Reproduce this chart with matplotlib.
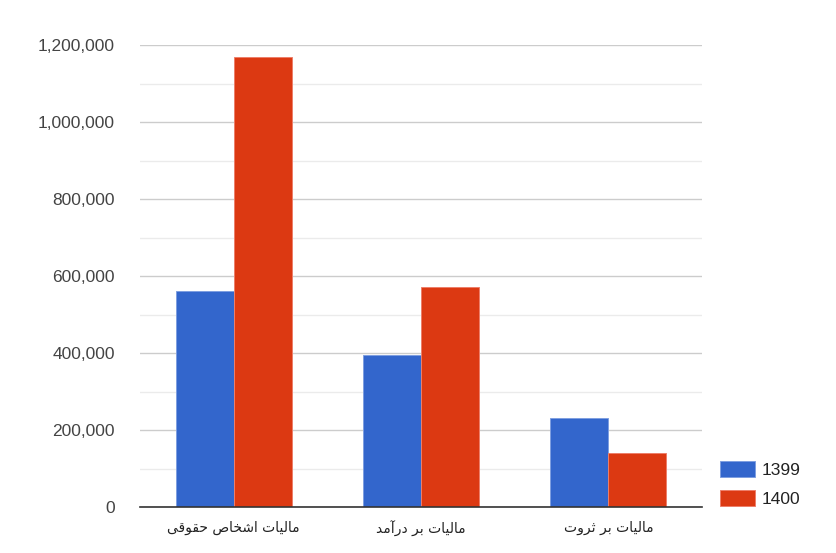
import matplotlib
matplotlib.use("Agg")
import matplotlib.pyplot as plt
from matplotlib.ticker import MultipleLocator, FuncFormatter
import numpy as np

# ---- data ----
categories = ["مالیات اشخاص حقوقی", "مالیات بر درآمد", "مالیات بر ثروت"]
series_names = ["1399", "1400"]
values_1399 = [562000, 396000, 230000]
values_1400 = [1168000, 571000, 139000]
colors = ["#3366cc", "#dc3912"]
edge_colors = ["#7f9fe0", "#ee7f6a"]

# ---- minimal Arabic/Persian shaping for display (matplotlib 3.10 lacks shaping) ----
# forms: (isolated, final, initial, medial); None -> letter does not join to the following one
FORMS = {
    "ا": ("\uFE8D", "\uFE8E", None, None),
    "آ": ("\uFE81", "\uFE82", None, None),
    "ب": ("\uFE8F", "\uFE90", "\uFE91", "\uFE92"),
    "ت": ("\uFE95", "\uFE96", "\uFE97", "\uFE98"),
    "ث": ("\uFE99", "\uFE9A", "\uFE9B", "\uFE9C"),
    "ح": ("\uFEA1", "\uFEA2", "\uFEA3", "\uFEA4"),
    "خ": ("\uFEA5", "\uFEA6", "\uFEA7", "\uFEA8"),
    "د": ("\uFEA9", "\uFEAA", None, None),
    "ر": ("\uFEAD", "\uFEAE", None, None),
    "ش": ("\uFEB5", "\uFEB6", "\uFEB7", "\uFEB8"),
    "ص": ("\uFEB9", "\uFEBA", "\uFEBB", "\uFEBC"),
    "ق": ("\uFED5", "\uFED6", "\uFED7", "\uFED8"),
    "ل": ("\uFEDD", "\uFEDE", "\uFEDF", "\uFEE0"),
    "م": ("\uFEE1", "\uFEE2", "\uFEE3", "\uFEE4"),
    "و": ("\uFEED", "\uFEEE", None, None),
    "ی": ("\uFEEF", "\uFEF0", "\uFEF3", "\uFEF4"),
}


def shape(text):
    chars = list(text)
    out = []
    for i, c in enumerate(chars):
        if c not in FORMS:
            out.append(c)
            continue
        prev = chars[i - 1] if i > 0 else None
        nxt = chars[i + 1] if i + 1 < len(chars) else None
        join_prev = prev in FORMS and FORMS[prev][2] is not None
        join_next = nxt in FORMS and FORMS[c][2] is not None
        iso, fin, ini, med = FORMS[c]
        if join_prev and join_next:
            out.append(med)
        elif join_prev:
            out.append(fin)
        elif join_next:
            out.append(ini)
        else:
            out.append(iso)
    return "".join(reversed(out))


plt.rcParams["font.family"] = ["Liberation Sans", "DejaVu Sans"]

W, H = 836, 553
fig = plt.figure(figsize=(W / 100, H / 100), dpi=100)
ax = fig.add_axes([140 / W, 1 - 507 / H, (702 - 140) / W, (507 - 45) / H])

x = np.arange(len(categories))
bw = 0.31
ax.bar(x - bw / 2, values_1399, width=bw, color=colors[0], edgecolor=edge_colors[0],
       linewidth=0.7, label=series_names[0], zorder=3)
ax.bar(x + bw / 2, values_1400, width=bw, color=colors[1], edgecolor=edge_colors[1],
       linewidth=0.7, label=series_names[1], zorder=3)

ax.set_xlim(-0.5, len(categories) - 0.5)
ax.set_ylim(0, 1200000)
ax.yaxis.set_major_locator(MultipleLocator(200000))
ax.yaxis.set_minor_locator(MultipleLocator(100000))
ax.yaxis.set_major_formatter(FuncFormatter(lambda v, p: f"{int(v):,}"))
ax.grid(axis="y", which="major", color="#cccccc", linewidth=1, zorder=0)
ax.grid(axis="y", which="minor", color="#ebebeb", linewidth=1, zorder=0)
for s in ["top", "right", "left"]:
    ax.spines[s].set_visible(False)
ax.spines["bottom"].set_color("#333333")
ax.spines["bottom"].set_linewidth(1.2)
ax.spines["bottom"].set_zorder(4)
ax.tick_params(axis="y", which="both", length=0, pad=18, labelsize=12.5, labelcolor="#444444")
ax.tick_params(axis="x", length=0, pad=10, labelsize=10, labelcolor="#222222")
ax.set_xticks(x)
ax.set_xticklabels([shape(c) for c in categories], family=["DejaVu Sans"])

# legend
leg = ax.legend(loc="lower left", bbox_to_anchor=((713 - 140) / (702 - 140), -0.015),
                frameon=False, fontsize=12.5, handlelength=2.0, handleheight=1.0,
                handletextpad=0.4, labelspacing=0.7, borderaxespad=0)
for t in leg.get_texts():
    t.set_color("#222222")

fig.savefig("out.png", dpi=100, facecolor="white")
